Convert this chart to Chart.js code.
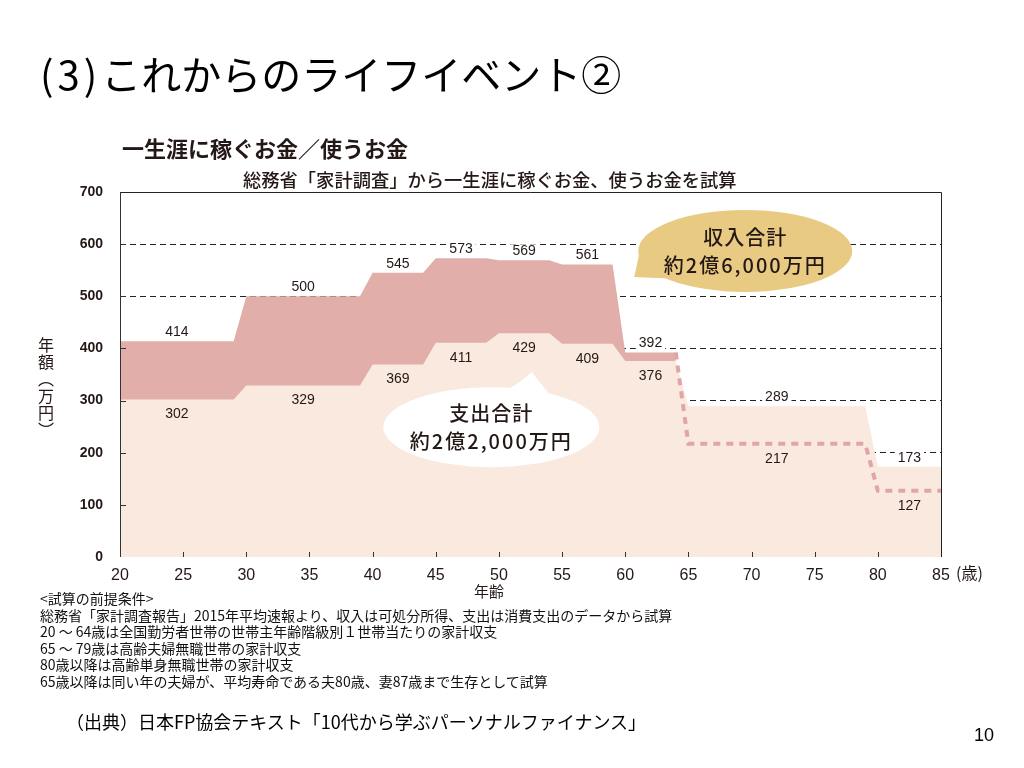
<!DOCTYPE html>
<html lang="ja">
<head>
<meta charset="utf-8">
<title>これからのライフイベント②</title>
<script src="https://cdn.jsdelivr.net/npm/chart.js@4.4.1/dist/chart.umd.min.js"></script>
<style>
  html, body { margin: 0; padding: 0; background: #fff; }
  body { width: 1024px; height: 768px; position: relative; overflow: hidden;
         font-family: "Noto Sans CJK JP", sans-serif; color: #1a1a1a; }
  #chart { position: absolute; left: 0; top: 0; }
  .txt { position: absolute; white-space: nowrap; line-height: 1; }
  #title { left: 40px; top: 53px; font-size: 40px; color: #000; }
  #title .num { letter-spacing: 4px; }
  #head1 { left: 122px; top: 136px; font-size: 22px; font-weight: 600; color: #231815; }
  #head2 { left: 243px; top: 170px; font-size: 18.3px; font-weight: 500; color: #231815; }
  #ytitle { left: 38px; top: 337px; font-size: 16px; writing-mode: vertical-rl; text-orientation: upright; color: #231815; line-height: 1; letter-spacing: 1px; }
  #unit { left: 956px; top: 564px; font-size: 16px; color: #231815; }
  #xtitle { left: 474px; top: 583px; font-size: 15px; color: #231815; }
  #notes { left: 40px; top: 590px; font-size: 14px; line-height: 16.6px; color: #111; }
  #source { left: 66px; top: 712px; font-size: 18px; color: #000; }
  #page { left: 974px; top: 726px; font-size: 18px; font-family: "Liberation Sans Narrow", sans-serif; color: #000; }
</style>
</head>
<body>
<canvas id="chart" width="1024" height="768"></canvas>

<div class="txt" id="title"><span class="num">(3)</span>これからのライフイベント②</div>
<div class="txt" id="head1">一生涯に稼ぐお金／使うお金</div>
<div class="txt" id="head2">総務省「家計調査」から一生涯に稼ぐお金、使うお金を試算</div>
<div class="txt" id="ytitle">年額（万円）</div>
<div class="txt" id="unit">(歳)</div>
<div class="txt" id="xtitle">年齢</div>
<div class="txt" id="notes">
  &lt;試算の前提条件&gt;<br>
  総務省「家計調査報告」2015年平均速報より、収入は可処分所得、支出は消費支出のデータから試算<br>
  20 ～ 64歳は全国勤労者世帯の世帯主年齢階級別１世帯当たりの家計収支<br>
  65 ～ 79歳は高齢夫婦無職世帯の家計収支<br>
  80歳以降は高齢単身無職世帯の家計収支<br>
  65歳以降は同い年の夫婦が、平均寿命である夫80歳、妻87歳まで生存として試算
</div>
<div class="txt" id="source">（出典）日本FP協会テキスト「10代から学ぶパーソナルファイナンス」</div>
<div class="txt" id="page">10</div>

<script>
// age brackets (first and last age of each bracket)
const bracketStart = [20, 30, 40, 45, 50, 55, 60, 65, 80];
const bracketEnd   = [29, 39, 44, 49, 54, 59, 64, 79, 85];
// yearly income / spending per bracket (万円)
const income  = [414, 500, 545, 573, 569, 561, 392, 217, 127];
const expense = [302, 329, 369, 411, 429, 409, 376, 289, 173];
const lastWorkingAge = 64;

const xTicks = [20, 25, 30, 35, 40, 45, 50, 55, 60, 65, 70, 75, 80, 85];
const yTicks = [0, 100, 200, 300, 400, 500, 600, 700];

const bubbles = [
  { lines: ['収入合計', '約2億6,000万円'], center: { x: 69.5, y: 587 }, tip: { x: 60.7, y: 537 },
    rx: 107, ry: 41, tail: [174, 138], color: '#e9ca82' },
  { lines: ['支出合計', '約2億2,000万円'], center: { x: 49.4, y: 249 }, tip: { x: 52.6, y: 355 },
    rx: 108, ry: 40, tail: [-80, -58], color: '#ffffff' }
];

function stepPoints(values) {
  return values.flatMap((v, i) => [{ x: bracketStart[i], y: v }, { x: bracketEnd[i], y: v }]);
}

const incomePts = stepPoints(income);
const expensePts = stepPoints(expense);

const textColor = '#231815';

const overlay = {
  id: 'overlay',
  beforeDatasetsDraw(chart) {
    // top and right frame, hidden under the fills
    const { ctx, chartArea: a } = chart;
    ctx.save();
    ctx.strokeStyle = '#222';
    ctx.lineWidth = 1;
    ctx.beginPath();
    ctx.moveTo(a.left, a.top + 0.5);
    ctx.lineTo(Math.round(a.right) + 0.5, a.top + 0.5);
    ctx.lineTo(Math.round(a.right) + 0.5, a.bottom);
    ctx.stroke();
    ctx.restore();
  },
  afterDatasetsDraw(chart) {
    const { ctx, chartArea: a, scales: { x, y } } = chart;
    ctx.save();

    // left axis + small inner ticks
    ctx.strokeStyle = '#333';
    ctx.lineWidth = 1;
    ctx.beginPath();
    ctx.moveTo(Math.round(a.left) + 0.5, a.top);
    ctx.lineTo(Math.round(a.left) + 0.5, a.bottom);
    yTicks.slice(1, -1).forEach(v => {
      const py = Math.round(y.getPixelForValue(v)) + 0.5;
      ctx.moveTo(a.left, py);
      ctx.lineTo(a.left + 6, py);
    });
    xTicks.slice(1, -1).forEach(v => {
      const px = Math.round(x.getPixelForValue(v)) + 0.5;
      ctx.moveTo(px, a.bottom);
      ctx.lineTo(px, a.bottom - 5);
    });
    ctx.stroke();

    // value labels: higher value above its line, lower value below
    ctx.font = '14px "Liberation Sans", Arial, sans-serif';
    ctx.textAlign = 'center';
    ctx.textBaseline = 'middle';
    income.forEach((inc, i) => {
      const px = x.getPixelForValue((bracketStart[i] + bracketEnd[i]) / 2);
      const hi = Math.max(inc, expense[i]);
      const lo = Math.min(inc, expense[i]);
      const hy = y.getPixelForValue(hi) - 9;
      const w = ctx.measureText(String(hi)).width;
      ctx.fillStyle = '#fff';
      ctx.fillRect(px - w / 2 - 3, hy - 7, w + 6, 14);
      ctx.fillStyle = textColor;
      ctx.fillText(String(hi), px, hy);
      ctx.fillText(String(lo), px, y.getPixelForValue(lo) + 15);
    });

    // speech bubbles
    bubbles.forEach(b => {
      const cx = x.getPixelForValue(b.center.x);
      const cy = y.getPixelForValue(b.center.y);
      const tx = x.getPixelForValue(b.tip.x);
      const ty = y.getPixelForValue(b.tip.y);
      const at = deg => [cx + b.rx * Math.cos(deg * Math.PI / 180), cy + b.ry * Math.sin(deg * Math.PI / 180)];
      const p1 = at(b.tail[0]);
      const p2 = at(b.tail[1]);
      ctx.fillStyle = b.color;
      ctx.beginPath();
      ctx.ellipse(cx, cy, b.rx, b.ry, 0, 0, Math.PI * 2);
      ctx.fill();
      ctx.beginPath();
      ctx.moveTo(p1[0], p1[1]);
      ctx.quadraticCurveTo((p1[0] + tx) / 2, (p1[1] + ty) / 2 + 2, tx, ty);
      ctx.quadraticCurveTo((p2[0] + tx) / 2, (p2[1] + ty) / 2, p2[0], p2[1]);
      ctx.lineTo(cx, cy);
      ctx.closePath();
      ctx.fill();

      ctx.fillStyle = textColor;
      ctx.font = '500 20px "Noto Sans CJK JP", sans-serif';
      ctx.letterSpacing = '1px';
      ctx.fillText(b.lines[0], cx, cy - 14);
      ctx.letterSpacing = '2px';
      ctx.fillText(b.lines[1], cx, cy + 14);
      ctx.letterSpacing = '0px';
    });

    ctx.restore();
  }
};

const ctx = document.getElementById('chart').getContext('2d');
new Chart(ctx, {
  type: 'line',
  data: {
    datasets: [
      {
        label: '収入（65歳以降）',
        data: incomePts.filter(p => p.x >= lastWorkingAge),
        borderColor: '#dfa6a5',
        borderWidth: 4,
        borderDash: [7, 6],
        fill: false,
        pointRadius: 0
      },
      {
        label: '支出',
        data: expensePts,
        backgroundColor: '#f9e9df',
        borderColor: 'rgba(0,0,0,0)',
        borderWidth: 0,
        fill: 'origin',
        pointRadius: 0
      },
      {
        label: '収入',
        data: incomePts.filter(p => p.x <= lastWorkingAge),
        backgroundColor: '#e2aea9',
        borderColor: 'rgba(0,0,0,0)',
        borderWidth: 0,
        fill: 'origin',
        pointRadius: 0
      }
    ]
  },
  options: {
    responsive: false,
    animation: false,
    events: [],
    layout: { padding: { left: 0, top: 192, right: 83, bottom: 181 } },
    plugins: {
      legend: { display: false },
      tooltip: { enabled: false }
    },
    scales: {
      x: {
        type: 'linear',
        min: 20,
        max: 85,
        afterBuildTicks: axis => { axis.ticks = xTicks.map(v => ({ value: v })); },
        afterFit: scale => { scale.height = 30; },
        grid: { display: false },
        border: { display: false },
        ticks: {
          padding: 1,
          color: textColor,
          maxRotation: 0,
          font: { family: '"Liberation Sans Narrow", "Liberation Sans", sans-serif', size: 16 }
        }
      },
      y: {
        min: 0,
        max: 700,
        afterBuildTicks: axis => { axis.ticks = yTicks.map(v => ({ value: v })); },
        afterFit: scale => { scale.width = 120; },
        grid: {
          drawTicks: false,
          lineWidth: 1,
          color: c => (c.tick && c.tick.value > 0 && c.tick.value < 700) ? '#222' : 'rgba(0,0,0,0)'
        },
        border: { display: false, dash: [6, 4] },
        ticks: {
          padding: 17,
          color: textColor,
          font: { family: '"Liberation Sans", Arial, sans-serif', size: 14, weight: 'bold' }
        }
      }
    }
  },
  plugins: [overlay]
});
</script>
</body>
</html>
